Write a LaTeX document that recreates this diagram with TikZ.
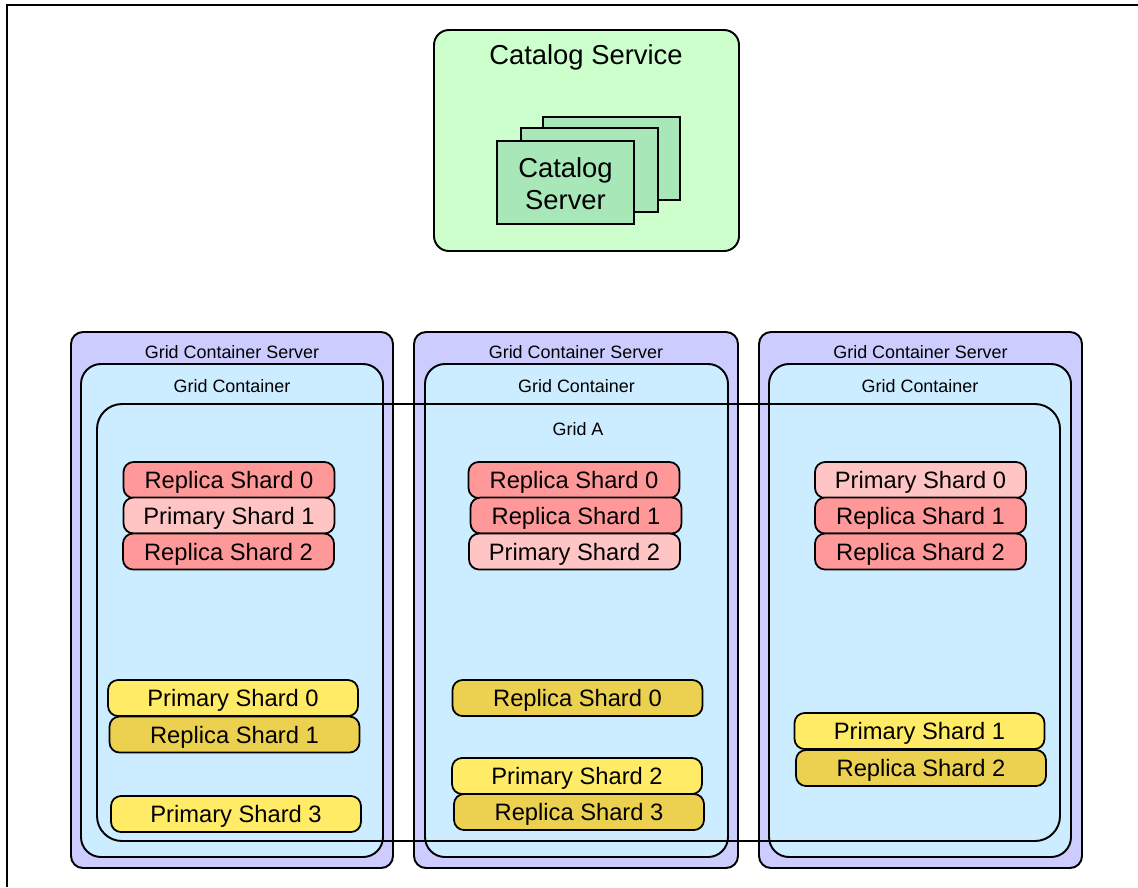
\documentclass[tikz,border=0pt]{standalone}
\usepackage{fontspec}
\setmainfont{Liberation Sans}
\definecolor{servfill}{RGB}{204,204,255}
\definecolor{contfill}{RGB}{204,236,255}
\definecolor{catfill}{RGB}{204,255,204}
\definecolor{srvfill}{RGB}{168,232,184}
\definecolor{redrep}{RGB}{255,153,153}
\definecolor{redprim}{RGB}{255,197,197}
\definecolor{yelprim}{RGB}{255,235,102}
\definecolor{yelrep}{RGB}{236,208,80}
\tikzset{
  server/.style={draw, line width=1.1pt, fill=servfill, rounded corners=0.24cm},
  container/.style={draw, line width=1.1pt, fill=contfill, rounded corners=0.4cm},
  gridline/.style={draw, line width=1.1pt, rounded corners=0.5cm},
  small/.style={font=\fontsize{10.2}{12}\selectfont},
  big/.style={font=\fontsize{15.6}{18.1}\selectfont},
  shard/.style={draw, line width=1pt, rounded corners=0.2cm, minimum height=0.72cm,
    inner sep=0pt, text depth=0pt, font=\fontsize{13.5}{16}\selectfont},
  reprd/.style={shard, minimum width=4.22cm, fill=redrep},
  primrd/.style={shard, minimum width=4.22cm, fill=redprim},
  repyl/.style={shard, minimum width=5cm, fill=yelrep},
  primyl/.style={shard, minimum width=5cm, fill=yelprim}
}
\begin{document}
\begin{tikzpicture}[x=0.02cm, y=-0.02cm]
    \useasboundingbox (0,0) rectangle (1138,887);
    \draw[line width=1.1pt] (7,887) -- (7,5) -- (1138,5);
    % catalog service
    \draw[line width=1.1pt, fill=catfill, rounded corners=0.3cm] (434,30) rectangle (739,251);
    \node[big] (catsvc) at (586,57) {Catalog Service};
    \draw[line width=0.7pt, fill=srvfill] (543,117) rectangle (680,200);
    \draw[line width=0.7pt, fill=srvfill] (521,128) rectangle (658,212);
    \draw[line width=0.7pt, fill=srvfill] (497,141) rectangle (634,224);
    \node[big, align=center] (catsrv) at (565.5,184) {Catalog\\Server};
    % grid container servers
    \draw[server] (71,332) rectangle (393,868);
    \draw[server] (414,332) rectangle (738,868);
    \draw[server] (759,332) rectangle (1082,868);
    \node[small] (gcs1) at (232,352) {Grid Container Server};
    \node[small] (gcs2) at (576,352) {Grid Container Server};
    \node[small] (gcs3) at (920.5,352) {Grid Container Server};
    \draw[container] (81,364) rectangle (383,857);
    \draw[container] (425,364) rectangle (728,857);
    \draw[container] (769,364) rectangle (1071,857);
    \node[small] (gc1) at (232,386) {Grid Container};
    \node[small] (gc2) at (576.5,386) {Grid Container};
    \node[small] (gc3) at (920,386) {Grid Container};
    % grid A
    \draw[gridline] (97,404) rectangle (1060,841);
    \node[small] (grida) at (578,429) {Grid A};
    % red shards
    \node[reprd] (lr0) at (229,480) {Replica Shard 0};
    \node[primrd] (lp1) at (229,515.5) {Primary Shard 1};
    \node[reprd] (lr2) at (228.5,551.5) {Replica Shard 2};
    \node[reprd] (mr0) at (574,480) {Replica Shard 0};
    \node[reprd] (mr1) at (576,515.5) {Replica Shard 1};
    \node[primrd] (mp2) at (574.5,551.5) {Primary Shard 2};
    \node[primrd] (rp0) at (920.5,480) {Primary Shard 0};
    \node[reprd] (rr1) at (920.5,515.5) {Replica Shard 1};
    \node[reprd] (rr2) at (920.5,551.5) {Replica Shard 2};
    % yellow shards
    \node[primyl] (lp0) at (233,698) {Primary Shard 0};
    \node[repyl] (lr1) at (234.5,734.5) {Replica Shard 1};
    \node[primyl] (lp3) at (236,814) {Primary Shard 3};
    \node[repyl] (mr0y) at (577.5,698) {Replica Shard 0};
    \node[primyl] (mp2y) at (577,776) {Primary Shard 2};
    \node[repyl] (mr3) at (579,812) {Replica Shard 3};
    \node[primyl] (rp1) at (919.5,731) {Primary Shard 1};
    \node[repyl] (rr2y) at (921,768) {Replica Shard 2};
\end{tikzpicture}
\end{document}
